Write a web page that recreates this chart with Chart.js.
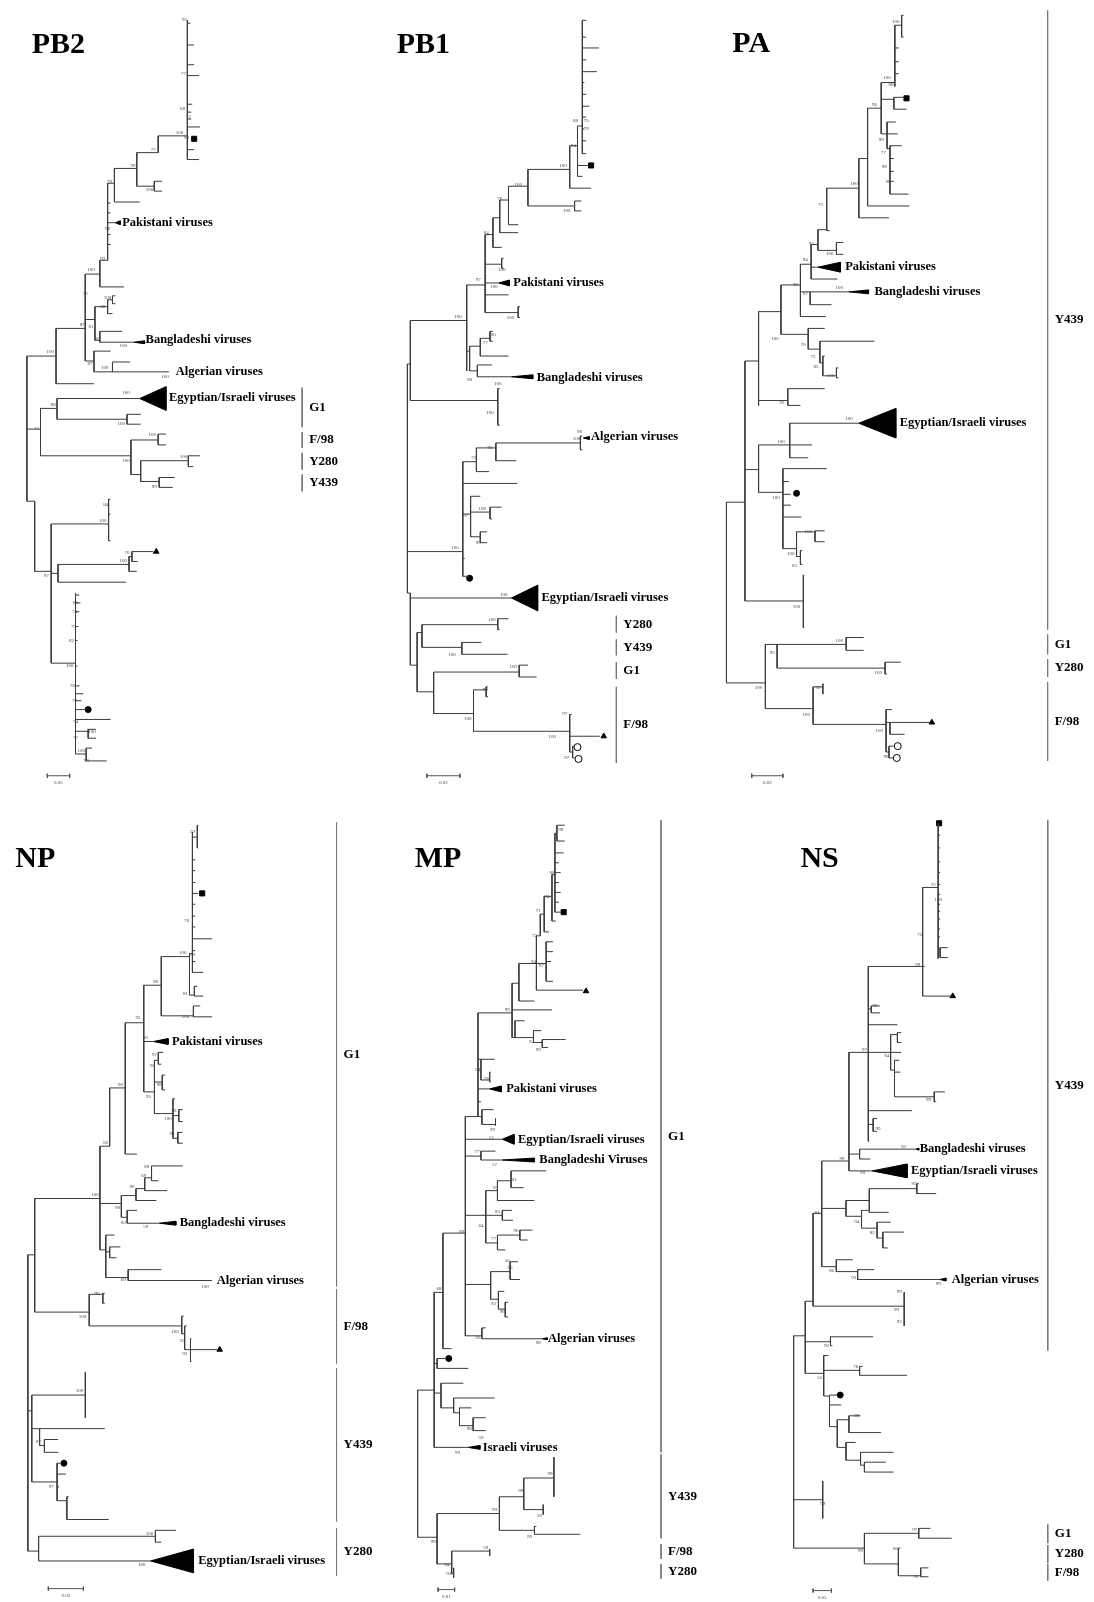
<!DOCTYPE html>
<html>
<head>
<meta charset="utf-8">
<script src="https://cdn.jsdelivr.net/npm/chart.js@4.4.1/dist/chart.umd.min.js"></script>
<style>
  html, body { margin: 0; padding: 0; background: #fff; }
  #page { position: relative; width: 1094px; height: 1602px; background: #fff; overflow: hidden; }
  #page canvas { position: absolute; }
</style>
</head>
<body>
<div id="page"></div>
<script>
// ---- tree data: branches [from, to, row], links [at, rowTop, rowBottom] ----
// collapsed clades [apex, base, row, halfSpread], names [text, at, row]
// support [at, row, value], marks [shape, at, row], groups [at, rowTop, rowBottom, name], bar [from, to, row, label]

// PB2
const pb2Branches = [[22,52,355],[52,82,327],[52,91,383],[82,97,272],[82,92,318],[82,91,360],
  [97,105,258],[97,122,285],[105,112,180],[105,108,200],[105,108,210],[105,113,220],[105,108,232],[105,108,242],
  [112,135,165],[112,138,199],[135,157,149],[135,153,183],[153,161,178],[153,161,188],[157,187,132],
  [187,190,18],[187,194,40],[187,194,60],[187,199,71],[187,192,100],[187,191,108],[187,191,115],[187,200,123],[187,194,146],[187,199,156],
  [92,105,305],[105,110,298],[110,113,294],[110,113,302],[105,110,312],[92,97,339],[97,120,330],[97,132,341],
  [91,108,350],[91,110,371],[110,128,361],[110,168,371],
  [22,36,429],[36,53,408],[53,138,398],[53,125,419],[125,139,414],[125,139,424],
  [36,129,456],[129,157,440],[157,165,434],[157,165,445],[129,139,475],[139,188,461],[188,200,456],[188,193,467],[139,158,482],[158,174,478],[158,172,488],
  [22,30,502],[30,47,573],[47,106,525],[106,108,500],[106,108,515],[106,108,542],
  [47,54,575],[54,127,566],[127,130,558],[130,152,553],[130,136,563],[127,135,573],[54,124,584],[47,72,666],
  [72,76,597],[72,77,605],[72,76,614],[72,75,629],[72,74,643],[72,74,669],[72,76,689],[72,80,697],[72,78,704],[72,83,713],[72,108,723],
  [72,85,735],[85,93,733],[85,93,742],[72,83,758],[83,89,752],[83,104,765]];
const pb2Links = [[22,355,502],[52,327,383],[82,272,360],[97,258,285],[105,180,258],[112,165,199],[135,149,183],[153,178,188],[157,132,149],[187,15,156],
  [92,305,339],[105,298,312],[110,294,302],[97,330,341],[91,350,371],[110,361,371],
  [36,408,456],[53,398,419],[125,414,424],[129,440,475],[157,434,445],[139,461,482],[188,456,467],[158,478,488],
  [30,502,573],[47,525,666],[106,500,542],[54,566,584],[127,558,573],[130,553,563],[72,595,758],[85,733,742],[83,752,765]];
const pb2Clades = [[138,165,398,12],[132,143,341,1.5],[113,118,220,2]];
const pb2Names = [['Pakistani viruses',120,220],['Bangladeshi viruses',144,339],['Algerian viruses',175,371],['Egyptian/Israeli viruses',168,397]];
const pb2Support = [[184,14,95],[183,69,77],[182,104,68],[188,113,73],[179,129,100],[186,134,98],[152,146,77],[131,162,99],[148,187,100],[107,178,79],
  [105,226,98],[100,256,93],[88,268,100],[105,296,100],[82,292,72],[100,305,89],[88,325,81],[79,323,87],[95,337,67],[121,345,100],[87,363,87],[102,367,100],[164,376,100],
  [46,351,100],[124,392,100],[49,404,88],[119,423,100],[32,429,72],[151,435,100],[183,457,100],[124,461,100],[153,487,99],[103,506,84],[100,522,100],
  [125,554,70],[121,562,100],[42,577,97],[72,605,86],[71,614,74],[70,629,75],[68,643,82],[66,669,100],[69,689,76],[71,704,79],[72,725,74],[72,741,77],[89,735,100],[78,755,100],[83,765,99]];
const pb2Marks = [['square',194,135],['tri',155,553],['dot',85,713]];
const pb2Groups = [[305,387,427,'G1'],[305,432,448,'F/98'],[305,453,470,'Y280'],[305,475,492,'Y439']];
const pb2Bar = [43,66,780,'0.05'];

// PB1
const pb1Branches = [[583,587,15],[583,587,32],[583,600,43],[583,587,55],[583,598,67],[583,585,78],[583,587,90],[583,590,102],[583,587,113],[583,585,125],[583,587,137],[583,587,150],
  [578,583,122],[578,590,162],[578,583,173],[570,578,142],[570,592,185],[527,570,166],[527,575,203],[575,582,198],[575,582,208],
  [507,527,183],[507,517,222],[498,507,197],[498,517,230],[491,498,215],[491,500,245],
  [483,491,232],[483,500,262],[500,502,256],[500,502,266],[483,497,281],[483,507,293],[483,517,311],[517,519,305],[517,519,316],
  [464,483,283],[464,467,350],[467,478,345],[478,488,337],[488,491,330],[488,491,340],[478,507,355],[467,475,370],[475,490,364],[475,510,376],
  [406,464,319],[406,496,400],[496,498,388],[496,498,425],[403,406,363],[403,460,553],[403,406,595],
  [460,474,462],[474,494,448],[494,581,443],[581,583,436],[581,583,450],[494,515,461],[474,487,472],
  [460,516,484],[460,468,515],[468,478,497],[468,488,513],[488,500,508],[488,490,520],[468,478,538],[478,485,533],[478,485,544],[460,462,560],[460,466,578],
  [406,510,600],[406,413,668],[413,418,635],[418,496,627],[496,507,621],[496,498,632],[418,459,650],[459,479,645],[459,506,657],
  [413,430,695],[430,518,675],[518,527,668],[518,536,680],[430,471,717],[471,484,693],[484,486,690],[484,486,700],[471,570,735],
  [570,572,718],[570,601,740],[570,573,756],[573,575,750],[573,575,762]];
const pb1Links = [[583,15,150],[578,122,173],[570,142,185],[527,166,203],[575,198,208],[507,183,222],[498,197,230],[491,215,245],[483,232,311],[500,256,266],[517,305,316],
  [464,283,370],[467,345,370],[478,337,355],[488,330,340],[475,364,376],[406,319,400],[496,388,425],[403,363,595],
  [460,462,578],[474,448,472],[494,443,461],[581,436,450],[468,497,538],[488,508,520],[478,533,544],
  [406,595,668],[413,635,695],[418,627,650],[496,621,632],[459,645,657],[430,675,717],[518,668,680],[471,693,735],[484,690,700],[570,718,756],[573,750,762]];
const pb1Clades = [[497,508,281,3],[510,532,376,2],[510,537,600,13],[584,590,438,1.5]];
const pb1Names = [['Pakistani viruses',512,281],['Bangladeshi viruses',536,377],['Algerian viruses',592,437],['Egyptian/Israeli viruses',541,600]];
const pb1Support = [[576,117,88],[587,117,75],[587,125,79],[574,142,94],[563,162,100],[517,181,100],[498,196,76],[484,230,84],[567,208,100],[500,268,100],
  [476,278,97],[492,285,100],[509,316,100],[455,315,100],[490,333,100],[483,341,77],[467,379,98],[496,383,100],[488,412,100],[580,432,98],[577,439,100],
  [488,448,95],[471,458,72],[480,510,100],[463,517,97],[476,544,99],[452,549,100],[502,597,100],[490,622,100],[449,657,100],[512,670,100],[483,693,99],
  [465,722,100],[565,717,97],[552,740,100],[567,762,97]];
const pb1Marks = [['square',592,162],['dot',467,580],['tri',605,740],['ring',578,751],['ring',579,763]];
const pb1Groups = [[618,618,635,'Y280'],[618,642,658,'Y439'],[618,665,682,'G1'],[618,690,767,'F/98']];
const pb1Bar = [423,457,780,'0.02'];

// PA
const paBranches = [[894,901,20],[901,903,10],[901,903,32],[894,898,43],[894,898,57],[894,898,69],
  [880,894,78],[880,893,95],[893,904,93],[893,906,105],[880,886,130],[886,895,118],[886,897,130],[886,889,145],[889,901,142],[889,893,155],[889,893,168],[889,893,178],[889,908,191],
  [866,880,104],[866,909,203],[857,866,155],[857,888,215],[824,857,185],[824,827,228],[815,824,227],[815,834,248],[834,841,240],[834,841,252],
  [808,815,242],[808,815,265],[808,835,277],[797,808,262],[797,807,290],[807,847,290],[807,829,303],[797,823,315],
  [777,797,283],[777,805,333],[805,822,327],[805,817,348],[817,873,340],[817,820,362],[820,822,355],[820,834,375],[834,836,367],[834,836,377],
  [754,777,310],[754,784,400],[784,822,388],[784,797,405],
  [740,754,360],[740,754,470],[754,786,445],[786,857,423],[786,809,445],[786,805,458],
  [754,779,493],[779,824,469],[779,785,482],[779,787,495],[779,787,506],[779,798,518],[779,793,550],[793,812,533],[812,822,532],[812,822,543],[793,797,558],[797,799,552],[797,799,566],
  [740,800,603],[800,801,577],[800,801,630],
  [721,740,503],[721,761,686],[761,773,647],[773,844,647],[844,862,640],[844,862,653],[773,884,671],[884,900,665],[884,886,677],
  [761,810,712],[810,820,690],[820,821,687],[820,821,697],[810,885,728],[885,891,713],[885,889,726],[889,930,726],[889,904,738],[885,888,756],[888,893,750],[888,893,762]];
const paLinks = [[894,20,82],[901,10,32],[880,78,130],[893,93,105],[886,118,145],[889,142,191],[866,104,203],[857,155,215],[824,185,228],[815,227,248],[834,240,252],
  [808,242,277],[797,262,315],[807,290,303],[777,283,333],[805,327,348],[817,340,362],[820,355,375],[834,367,377],[754,310,405],[784,388,405],
  [740,360,603],[754,445,493],[786,423,458],[779,469,550],[793,533,558],[812,532,543],[797,552,566],[800,577,630],
  [721,503,686],[761,647,712],[773,647,671],[844,640,653],[884,665,677],[810,690,728],[820,687,697],[885,713,756],[889,726,738],[888,750,762]];
const paClades = [[815,838,265,5],[847,867,290,2],[857,895,423,15]];
const paNames = [['Pakistani viruses',843,265],['Bangladeshi viruses',873,290],['Egyptian/Israeli viruses',899,423]];
const paSupport = [[895,16,100],[886,73,100],[890,80,98],[873,100,96],[880,136,99],[882,149,77],[883,163,98],[887,178,98],[852,180,100],[818,202,71],
  [808,241,93],[827,251,100],[802,257,94],[792,283,98],[802,292,97],[837,286,100],[800,343,70],[810,356,73],[813,366,85],[828,375,100],[771,337,100],
  [778,402,93],[847,418,100],[777,442,100],[772,498,100],[805,533,100],[787,555,100],[791,567,82],[793,609,100],[768,655,95],[837,643,100],
  [877,676,100],[754,691,100],[803,718,100],[815,691,99],[878,734,100],[885,761,99]];
const paMarks = [['square',906,94],['dot',793,494],['tri',932,726],['ring',897,750],['ring',896,762]];
const paGroups = [[1051,5,632,'Y439'],[1051,637,657,'G1'],[1051,662,680,'Y280'],[1051,685,765,'F/98']];
const paBar = [747,779,780,'0.02'];

// NP
const npBranches = [[192,197,832],[197,198,820],[197,198,843],[192,195,855],[192,195,866],[192,195,878],[192,198,889],[192,195,900],[192,195,912],[192,195,923],[192,212,935],[192,195,947],[192,195,958],[192,203,969],
  [189,192,950],[189,194,992],[194,197,983],[194,203,993],[160,189,953],[160,193,1013],[193,200,1003],[193,212,1014],
  [142,160,982],[142,152,1039],[142,153,1090],[153,157,1058],[157,162,1050],[157,160,1062],[153,161,1080],[161,164,1073],[161,164,1088],
  [153,172,1112],[172,174,1097],[172,178,1114],[178,182,1108],[178,182,1120],[172,177,1137],[177,182,1131],[177,182,1142],
  [123,142,1020],[123,135,1153],[107,123,1086],
  [97,107,1145],[97,119,1203],[119,134,1195],[134,143,1188],[143,150,1177],[150,182,1165],[150,157,1180],[143,166,1190],[134,155,1200],[119,125,1217],[125,135,1210],[125,158,1223],
  [97,103,1250],[103,112,1235],[103,107,1252],[107,118,1247],[107,114,1258],[103,126,1278],[126,160,1270],[126,212,1281],
  [30,97,1198],[30,86,1313],[86,100,1295],[100,102,1294],[100,102,1304],[86,181,1327],[181,183,1317],[181,184,1335],[184,186,1327],[184,190,1351],[190,218,1351],[190,191,1340],[190,191,1363],
  [23,30,1255],[23,27,1413],[27,82,1397],[27,35,1431],[35,102,1431],[35,40,1448],[40,54,1442],[40,54,1455],
  [27,53,1485],[53,56,1466],[53,62,1477],[53,55,1490],[53,63,1504],[63,65,1500],[63,106,1523],
  [23,34,1555],[34,154,1540],[154,175,1534],[154,160,1546],[34,149,1565]];
const npLinks = [[192,827,969],[197,820,843],[189,950,992],[194,983,993],[160,953,1013],[193,1003,1014],[142,982,1090],[153,1058,1112],[157,1050,1062],[161,1073,1088],
  [172,1097,1137],[178,1108,1120],[177,1131,1142],[123,1020,1153],[107,1086,1145],[97,1145,1250],[119,1195,1217],[134,1188,1200],[143,1177,1190],[150,1165,1180],[125,1210,1223],
  [103,1235,1278],[107,1247,1258],[126,1270,1281],[30,1198,1313],[86,1295,1327],[100,1294,1304],[181,1317,1335],[184,1327,1351],[190,1340,1363],
  [23,1255,1555],[27,1397,1485],[82,1374,1420],[35,1431,1448],[40,1442,1455],[53,1466,1504],[63,1500,1523],[34,1540,1565],[154,1534,1546]];
const npClades = [[152,167,1039,3],[158,175,1223,2],[149,193,1565,12]];
const npNames = [['Pakistani viruses',171,1039],['Bangladeshi viruses',179,1223],['Algerian viruses',217,1281],['Egyptian/Israeli viruses',198,1565]];
const npSupport = [[192,827,59],[186,917,78],[182,949,100],[192,951,59],[185,991,81],[154,978,98],[185,1014,100],[136,1015,92],[144,1035,91],[153,1052,97],
  [151,1063,98],[158,1083,98],[147,1095,95],[173,1109,98],[167,1117,100],[171,1132,98],[118,1083,90],[103,1141,82],[92,1194,100],[145,1166,89],
  [142,1175,69],[130,1186,90],[115,1207,98],[121,1222,93],[144,1227,59],[121,1280,69],[205,1287,100],[94,1294,90],[79,1318,100],[174,1333,100],
  [182,1342,87],[184,1355,93],[76,1393,100],[34,1444,87],[47,1490,97],[148,1537,100],[140,1569,100]];
const npMarks = [['square',202,889],['tri',220,1351],['dot',60,1466]];
const npGroups = [[340,817,1287,'G1'],[340,1290,1365,'F/98'],[340,1370,1525,'Y439'],[340,1532,1580,'Y280']];
const npBar = [44,80,1593,'0.02'];

// MP
const mpBranches = [[554,556,828],[556,564,820],[556,564,836],[554,563,848],[554,558,858],[554,560,868],[554,558,878],[554,560,888],[554,558,898],[554,560,908],
  [551,554,870],[551,555,917],[543,551,892],[543,548,928],[539,543,910],
  [535,539,932],[535,545,960],[545,552,938],[545,552,948],[545,550,958],[545,552,978],[535,583,987],[517,535,960],[517,533,998],
  [510,517,980],[510,551,1007],[510,513,1035],[513,523,1018],[513,532,1035],[532,540,1028],[532,541,1040],[541,565,1037],[541,547,1045],
  [475,510,1010],[475,478,1057],[478,492,1057],[478,487,1078],[487,488,1070],[487,488,1080],[475,487,1087],[475,478,1100],[475,479,1115],[479,491,1108],[479,493,1123],
  [462,475,1115],[462,500,1138],[462,478,1155],[478,493,1150],[478,500,1159],
  [462,483,1215],[483,495,1190],[495,509,1180],[509,545,1170],[509,522,1187],[495,533,1200],[483,500,1215],[500,510,1210],[500,511,1220],
  [483,495,1243],[495,518,1235],[518,531,1230],[518,526,1240],[495,503,1250],
  [462,488,1285],[488,508,1272],[508,516,1262],[508,518,1280],[488,496,1300],[496,502,1292],[496,503,1310],[503,506,1303],[503,506,1318],
  [462,479,1337],[479,483,1329],[479,541,1340],[439,462,1233],[439,448,1350],
  [430,439,1293],[430,433,1365],[433,443,1360],[433,465,1370],[430,437,1395],[437,460,1385],[437,450,1410],[450,492,1400],[450,456,1415],[456,468,1410],[456,470,1428],[470,483,1420],[470,483,1433],[430,465,1450],
  [413,430,1392],[413,433,1541],[433,497,1517],[497,522,1500],[522,553,1481],[522,542,1513],[497,533,1534],[533,535,1530],[533,580,1538],[433,448,1568],[448,487,1555],[448,450,1578]];
const mpLinks = [[554,828,908],[556,820,836],[551,870,917],[543,892,928],[539,910,932],[535,932,987],[545,938,978],[517,960,998],[510,980,1035],[513,1018,1035],[532,1028,1040],[541,1037,1045],
  [475,1010,1115],[478,1057,1078],[487,1070,1080],[479,1108,1123],[493,1117,1124],
  [462,1115,1337],[478,1150,1159],[483,1190,1243],[495,1180,1200],[509,1170,1187],[500,1210,1220],[495,1235,1250],[518,1230,1240],[488,1272,1300],[508,1262,1280],[496,1292,1310],[503,1303,1318],[479,1329,1340],
  [439,1233,1350],[430,1293,1450],[433,1360,1370],[437,1385,1410],[450,1400,1415],[456,1410,1428],[470,1420,1433],
  [413,1392,1541],[433,1517,1568],[497,1500,1534],[522,1481,1513],[553,1460,1500],[542,1508,1518],[533,1530,1538],[448,1555,1578],[487,1553,1560],[450,1572,1582]];
const mpClades = [[487,499,1087,3],[500,512,1138,5],[500,533,1159,2],[541,546,1340,1],[465,477,1450,2]];
const mpNames = [['Pakistani viruses',504,1087],['Egyptian/Israeli viruses',516,1138],['Bangladeshi Viruses',538,1159],['Algerian viruses',547,1340],['Israeli viruses',480,1450]];
const mpSupport = [[560,825,99],[551,868,88],[546,892,94],[537,907,71],[533,932,72],[532,958,94],[540,962,97],[505,1007,99],[530,1039,94],[537,1047,99],
  [475,1068,94],[484,1077,95],[490,1128,99],[489,1136,55],[474,1151,77],[492,1164,57],[512,1179,81],[493,1187,95],[495,1211,85],[458,1232,99],
  [478,1225,64],[491,1239,77],[514,1231,90],[505,1261,56],[508,1268,96],[491,1304,92],[500,1313,98],[475,1339,93],[537,1344,98],[435,1289,68],
  [466,1431,98],[478,1440,59],[454,1455,99],[549,1477,99],[519,1494,99],[492,1513,99],[538,1519,59],[528,1540,99],[429,1545,99],[483,1552,59],[443,1569,94],[445,1578,93]];
const mpMarks = [['square',563,908],['tri',586,988],['dot',445,1360]];
const mpGroups = [[663,815,1455,'G1'],[663,1457,1542,'Y439'],[663,1548,1563,'F/98'],[663,1568,1583,'Y280']];
const mpBar = [434,451,1594,'0.01'];

// NS
const nsBranches = [[938,940,830],[938,940,843],[938,940,857],[938,940,868],[938,940,880],[938,940,890],[938,940,900],[938,940,907],[938,940,915],[938,940,925],[938,940,933],[938,940,945],[940,948,944],[940,948,954],
  [922,938,883],[922,924,963],[922,952,993],
  [866,922,963],[866,869,1006],[869,878,1003],[869,878,1010],[866,896,1022],[866,889,1050],[889,896,1032],[896,900,1030],[896,900,1040],[889,900,1050],[889,893,1068],
  [893,898,1058],[893,899,1070],[893,934,1095],[934,945,1090],[934,936,1100],[866,911,1109],[866,871,1123],[871,875,1117],[871,875,1130],[866,867,1140],
  [846,866,1050],[846,857,1153],[857,915,1148],[857,868,1158],[846,870,1170],
  [818,846,1160],[818,843,1208],[843,867,1200],[867,916,1188],[916,918,1183],[916,936,1193],[867,887,1212],[843,859,1216],[859,866,1210],[859,875,1228],[875,889,1222],[875,881,1238],[881,903,1232],[881,886,1248],
  [818,833,1267],[833,850,1260],[833,855,1272],[855,872,1270],[855,940,1280],[809,818,1213],[809,903,1307],
  [801,809,1302],[801,827,1343],[827,871,1338],[827,829,1347],[801,820,1375],[820,825,1357],[820,857,1372],[857,860,1368],[857,906,1377],[820,826,1398],
  [826,834,1397],[826,838,1407],[826,834,1429],[834,846,1422],[846,858,1418],[846,879,1435],[834,843,1450],[843,853,1445],[843,858,1463],[858,892,1455],[858,862,1468],[862,884,1465],[862,892,1475],
  [789,801,1337],[789,819,1503],[789,862,1552],[862,918,1537],[918,930,1532],[918,952,1542],[862,897,1568],[897,899,1552],[897,920,1580],[920,928,1572],[920,928,1581]];
const nsLinks = [[938,818,955],[940,944,954],[922,883,993],[866,963,1140],[869,1003,1010],[889,1032,1068],[896,1030,1040],[893,1058,1095],[934,1090,1100],[871,1117,1130],
  [846,1050,1170],[857,1148,1158],[818,1160,1267],[843,1200,1216],[867,1188,1212],[916,1183,1193],[859,1210,1228],[875,1222,1238],[881,1232,1248],[833,1260,1272],[855,1270,1280],
  [809,1213,1307],[903,1293,1327],[801,1302,1375],[827,1338,1347],[820,1357,1398],[857,1368,1377],[826,1397,1429],[834,1422,1450],[846,1418,1435],[843,1445,1463],[858,1455,1468],[862,1465,1475],
  [789,1337,1552],[819,1484,1522],[862,1537,1568],[918,1532,1542],[897,1552,1580],[920,1572,1581]];
const nsClades = [[915,918,1148,1],[870,906,1170,7],[940,946,1280,1.5]];
const nsNames = [['Bangladeshi viruses',919,1148],['Egyptian/Israeli viruses',910,1170],['Algerian viruses',952,1280]];
const nsSupport = [[933,880,72],[938,895,100],[919,931,72],[917,961,99],[873,1003,99],[862,1047,97],[885,1053,94],[928,1098,99],[876,1127,99],[902,1146,59],
  [860,1172,98],[839,1158,99],[913,1183,93],[813,1212,84],[854,1221,94],[870,1233,82],[828,1271,96],[851,1278,93],[938,1284,99],[898,1292,99],
  [895,1311,99],[898,1323,93],[823,1347,90],[853,1368,76],[816,1379,55],[854,1418,99],[819,1507,99],[914,1533,97],[858,1555,99],[894,1553,80],[915,1581,99]];
const nsMarks = [['square',939,818],['tri',953,993],['dot',837,1397]];
const nsGroups = [[1051,815,1352,'Y439'],[1051,1528,1547,'G1'],[1051,1549,1567,'Y280'],[1051,1568,1585,'F/98']];
const nsBar = [809,828,1595,'0.05'];

// ---- layout of the six panels ----
const panels = [
  { title: 'PB2', titleAt: [27, 48], box: [0, 0, 365, 800], branches: pb2Branches, links: pb2Links, clades: pb2Clades, names: pb2Names, support: pb2Support, marks: pb2Marks, groups: pb2Groups, bar: pb2Bar },
  { title: 'PB1', titleAt: [392, 48], box: [365, 0, 720, 800], branches: pb1Branches, links: pb1Links, clades: pb1Clades, names: pb1Names, support: pb1Support, marks: pb1Marks, groups: pb1Groups, bar: pb1Bar },
  { title: 'PA', titleAt: [727, 47], box: [720, 0, 1094, 800], branches: paBranches, links: paLinks, clades: paClades, names: paNames, support: paSupport, marks: paMarks, groups: paGroups, bar: paBar },
  { title: 'NP', titleAt: [10, 862], box: [0, 800, 380, 1602], branches: npBranches, links: npLinks, clades: npClades, names: npNames, support: npSupport, marks: npMarks, groups: npGroups, bar: npBar },
  { title: 'MP', titleAt: [410, 862], box: [380, 800, 760, 1602], branches: mpBranches, links: mpLinks, clades: mpClades, names: mpNames, support: mpSupport, marks: mpMarks, groups: mpGroups, bar: mpBar },
  { title: 'NS', titleAt: [796, 862], box: [760, 800, 1094, 1602], branches: nsBranches, links: nsLinks, clades: nsClades, names: nsNames, support: nsSupport, marks: nsMarks, groups: nsGroups, bar: nsBar }
];

const SERIF = '"Liberation Serif", "Times New Roman", serif';
const LINE = '#3c3c3c';

function segmentPoints(horiz, vert) {
  const pts = [];
  horiz.forEach(([a, b, y]) => { pts.push({ x: a, y: y }, { x: b, y: y }, { x: b, y: null }); });
  vert.forEach(([x, a, b]) => { pts.push({ x: x, y: a }, { x: x, y: b }, { x: x, y: null }); });
  return pts;
}

function markSet(marks, shape, style) {
  const pts = marks.filter(m => m[0] === shape).map(m => ({ x: m[1], y: m[2] }));
  return Object.assign({ data: pts, showLine: false, borderWidth: 1, borderColor: '#000', clip: false }, style);
}

function treeText(p) {
  return {
    id: 'treeText',
    afterDatasetsDraw(chart) {
      const ctx = chart.ctx;
      const sx = chart.scales.x, sy = chart.scales.y;
      const px = v => sx.getPixelForValue(v), py = v => sy.getPixelForValue(v);
      ctx.save();
      ctx.fillStyle = '#000';
      // panel title
      ctx.font = 'bold 30px ' + SERIF;
      ctx.textAlign = 'left';
      ctx.textBaseline = 'alphabetic';
      ctx.fillText(p.title, px(p.titleAt[0]), py(p.titleAt[1]));
      // clade names
      ctx.font = 'bold 12.5px ' + SERIF;
      ctx.textBaseline = 'middle';
      p.names.forEach(([t, x, y]) => ctx.fillText(t, px(x), py(y)));
      // lineage groups
      ctx.font = 'bold 13px ' + SERIF;
      p.groups.forEach(([x, a, b, t]) => ctx.fillText(t, px(x) + 7, py((a + b) / 2)));
      // bootstrap values
      ctx.fillStyle = '#444';
      ctx.font = '5px ' + SERIF;
      ctx.textAlign = 'center';
      p.support.forEach(([x, y, v]) => ctx.fillText(String(v), px(x), py(y)));
      // scale bar label
      ctx.fillText(p.bar[3], px((p.bar[0] + p.bar[1]) / 2), py(p.bar[2]) + 7);
      ctx.restore();
    }
  };
}

const page = document.getElementById('page');

panels.forEach(p => {
  const [x0, y0, x1, y1] = p.box;
  const canvas = document.createElement('canvas');
  canvas.width = x1 - x0;
  canvas.height = y1 - y0;
  canvas.style.left = x0 + 'px';
  canvas.style.top = y0 + 'px';
  canvas.style.width = (x1 - x0) + 'px';
  canvas.style.height = (y1 - y0) + 'px';
  page.appendChild(canvas);

  const datasets = [];
  datasets.push({ data: segmentPoints(p.branches, p.links), borderColor: LINE, borderWidth: 1, pointRadius: 0, spanGaps: false, clip: false });

  p.clades.forEach(([apex, base, y, h]) => {
    datasets.push({
      data: [{ x: apex, y: y }, { x: base, y: y - h }, { x: base, y: y + h }, { x: apex, y: y }],
      borderColor: '#000', backgroundColor: '#000', borderWidth: 1, pointRadius: 0, fill: 'shape', clip: false
    });
  });

  // lineage brackets and scale bar
  const bracket = p.groups.map(([x, a, b]) => [x, a, b]);
  datasets.push({ data: segmentPoints([], bracket), borderColor: '#777', borderWidth: 1, pointRadius: 0, clip: false });
  const [b0, b1, by] = p.bar;
  datasets.push({ data: segmentPoints([[b0, b1, by]], [[b0, by - 2, by + 2], [b1, by - 2, by + 2]]), borderColor: '#555', borderWidth: 1, pointRadius: 0, clip: false });

  datasets.push(markSet(p.marks, 'square', { pointStyle: 'rect', pointRadius: 3.6, backgroundColor: '#000' }));
  datasets.push(markSet(p.marks, 'tri', { pointStyle: 'triangle', pointRadius: 3.2, backgroundColor: '#000' }));
  datasets.push(markSet(p.marks, 'dot', { pointStyle: 'circle', pointRadius: 3, backgroundColor: '#000' }));
  datasets.push(markSet(p.marks, 'ring', { pointStyle: 'circle', pointRadius: 3.5, backgroundColor: '#fff' }));

  new Chart(canvas, {
    type: 'line',
    data: { datasets: datasets },
    options: {
      responsive: false,
      animation: false,
      devicePixelRatio: 1,
      layout: { padding: 0 },
      elements: { line: { tension: 0 } },
      scales: {
        x: { type: 'linear', display: false, min: x0 - 0.5, max: x1 - 0.5 },
        y: { type: 'linear', display: false, reverse: true, min: y0 - 0.5, max: y1 - 0.5 }
      },
      plugins: { legend: { display: false }, tooltip: { enabled: false } }
    },
    plugins: [treeText(p)]
  });
});
</script>
</body>
</html>
